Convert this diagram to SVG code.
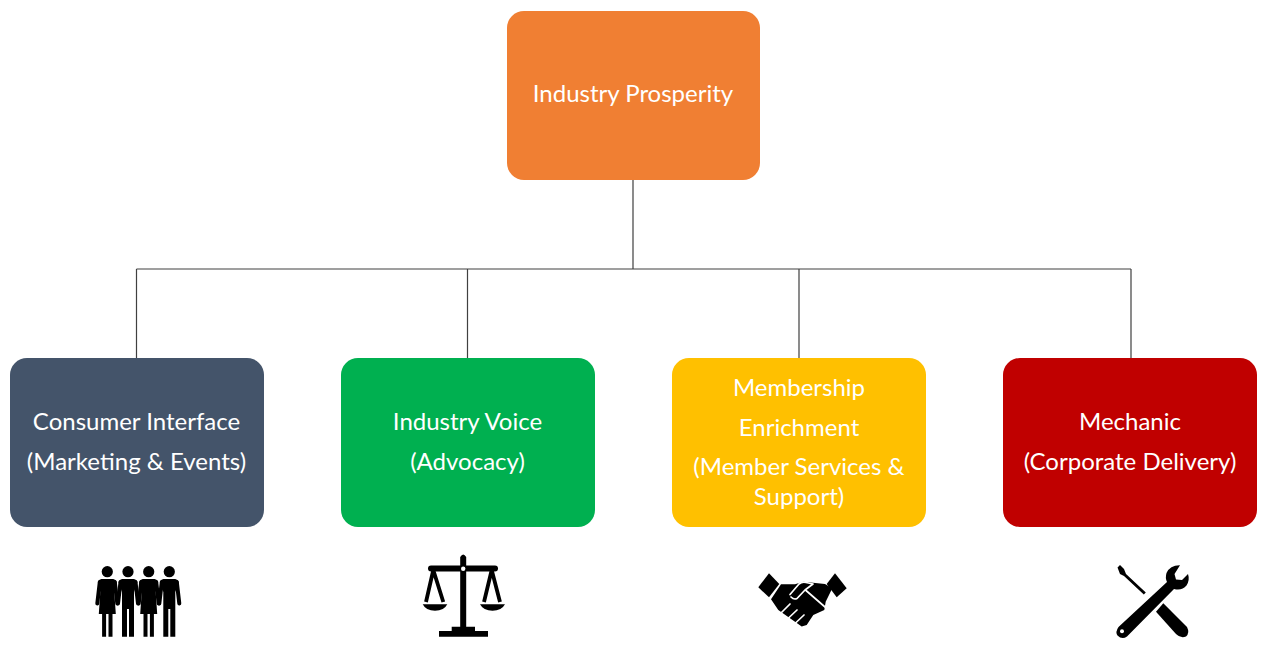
<svg xmlns="http://www.w3.org/2000/svg" width="1269" height="654" viewBox="0 0 1269 654">
<style>
.box{stroke:none}
.lbl{font-family:"Lato","Open Sans",sans-serif;font-size:24px;fill:#fff;text-anchor:middle}
.conn{fill:none;stroke:#404040;stroke-width:1.2}
.ico{fill:#000;stroke:none}
.arm{fill:none;stroke:#000;stroke-width:4;stroke-linecap:round}
.gap{fill:none;stroke:#fff;stroke-width:1.7;stroke-linecap:round;stroke-linejoin:round}
</style>
<defs>
<g id="woman"><circle cx="0" cy="571.700" r="5.600"/><path class="arm" d="M-7.500,582 L-10,603.500 M7.500,582 L10,603.500"/><path d="M-6,579 H6 Q8.500,579.500 9.500,582 L7,592 L8.500,614 H5.200 V636.700 H1.200 V614 H-1.200 V636.700 H-5.200 V614 H-8.500 L-7,592 L-9.500,582 Q-8.500,579.500 -6,579Z"/></g>
<g id="man"><circle cx="0" cy="571.700" r="5.600"/><path class="arm" d="M-7.500,582 L-10,603.500 M7.500,582 L10,603.500"/><path d="M-6,579 H6 Q8.500,579.500 9.500,582 L6,592 V636.700 H1 V609 H-1 V636.700 H-6 V592 L-9.500,582 Q-8.500,579.500 -6,579Z"/></g>
</defs>
<g id="connectors">
<path class="conn" d="M633,180V269M136.500,269H1131M136.500,269V358M467.500,269V358M799,269V358M1131,269V358"/>
</g>
<g id="node-prosperity"><rect class="box" x="507" y="11" width="253" height="169" rx="17" fill="#F07F33"/><text class="lbl" x="633" y="102">Industry Prosperity</text></g>
<g id="node-consumer"><rect class="box" x="10" y="358" width="254" height="169" rx="17" fill="#44546A"/><text class="lbl" x="136.500" y="430">Consumer Interface</text><text class="lbl" x="136.500" y="470">(Marketing &amp; Events)</text></g>
<g id="node-voice"><rect class="box" x="341" y="358" width="254" height="169" rx="17" fill="#00B050"/><text class="lbl" x="467.500" y="430">Industry Voice</text><text class="lbl" x="467.500" y="470">(Advocacy)</text></g>
<g id="node-membership"><rect class="box" x="672" y="358" width="254" height="169" rx="17" fill="#FFC000"/><text class="lbl" x="799" y="396">Membership</text><text class="lbl" x="799" y="436">Enrichment</text><text class="lbl" x="799" y="475">(Member Services &amp;</text><text class="lbl" x="799" y="505">Support)</text></g>
<g id="node-mechanic"><rect class="box" x="1003" y="358" width="254" height="169" rx="17" fill="#C00000"/><text class="lbl" x="1130" y="430">Mechanic</text><text class="lbl" x="1130" y="470">(Corporate Delivery)</text></g>
<g id="icon-people" class="ico">
<use href="#woman" x="107.300"/><use href="#man" x="128"/><use href="#woman" x="148.700"/><use href="#man" x="169.300"/>
</g>
<g id="icon-scales" class="ico">
<path d="M460.200,557 Q463.200,552 466.200,557 V626.700 H475 V631 H488 V636.700 H439 V631 H451.700 V626.700 H460.200Z"/>
<rect x="428" y="565.500" width="70" height="6" rx="3"/>
<circle cx="463.200" cy="568.800" r="2.200" fill="#fff"/>
<path d="M433.300,570 L426,602 M433.300,570 L443.300,602 M491.700,570 L484,602 M491.700,570 L500,602" fill="none" stroke="#000" stroke-width="3.800"/>
<path d="M422.700,604.300 H447.300 Q444,610.800 435,610.800 Q426,610.800 422.700,604.300Z"/>
<path d="M480,604.300 H505 Q501.500,610.800 492.500,610.800 Q483.500,610.800 480,604.300Z"/>
</g>
<g id="icon-handshake" class="ico">
<path d="M769,573.300 L779.300,584 L769,597.300 L758.300,587.300Z"/>
<path d="M835,573.300 L846.700,588.300 L836.700,597.300 L826.700,584Z"/>
<path d="M781,584.300 H795 L803.300,581.700 L825,584 L832.300,588.300 L825.700,601.700 L824.300,610 L813.300,615 L806.700,625 L801.700,626.500 L778.300,610 L771,599.300Z"/>
<path class="gap" d="M790,594.500 L799,584 Q802,581.500 806,582.500 L813,584 L805,590 L797,598.500 Q794,600 791,597 M806,590.500 L825,607"/>
<path class="gap" d="M781,613 L790,604 M788,618.500 L797,610 M795,623.500 L804,615"/>
</g>
<g id="icon-tools" class="ico">
<path d="M1117.500,567.500 L1120,565 L1124,569 L1126,574 L1145.800,592.500 L1143.800,594.500 L1124,576 L1120,574Z"/>
<path d="M1156,611.700 L1163.300,603.300 L1187,627 Q1190,633 1186,636.500 Q1181,639 1176,634Z"/>
<path d="M1180,565.200 Q1170,565 1166.500,573 Q1165,578 1167,582 L1118.500,627 Q1115,632 1117.500,635.500 Q1122,640 1127,636.500 L1174,589 Q1182,591 1186.500,585.500 Q1190,580 1188,574 L1182,580 L1176,579.500 L1174.500,574 Z"/>
<circle cx="1122" cy="631.300" r="2" fill="#fff"/>
</g>
</svg>
